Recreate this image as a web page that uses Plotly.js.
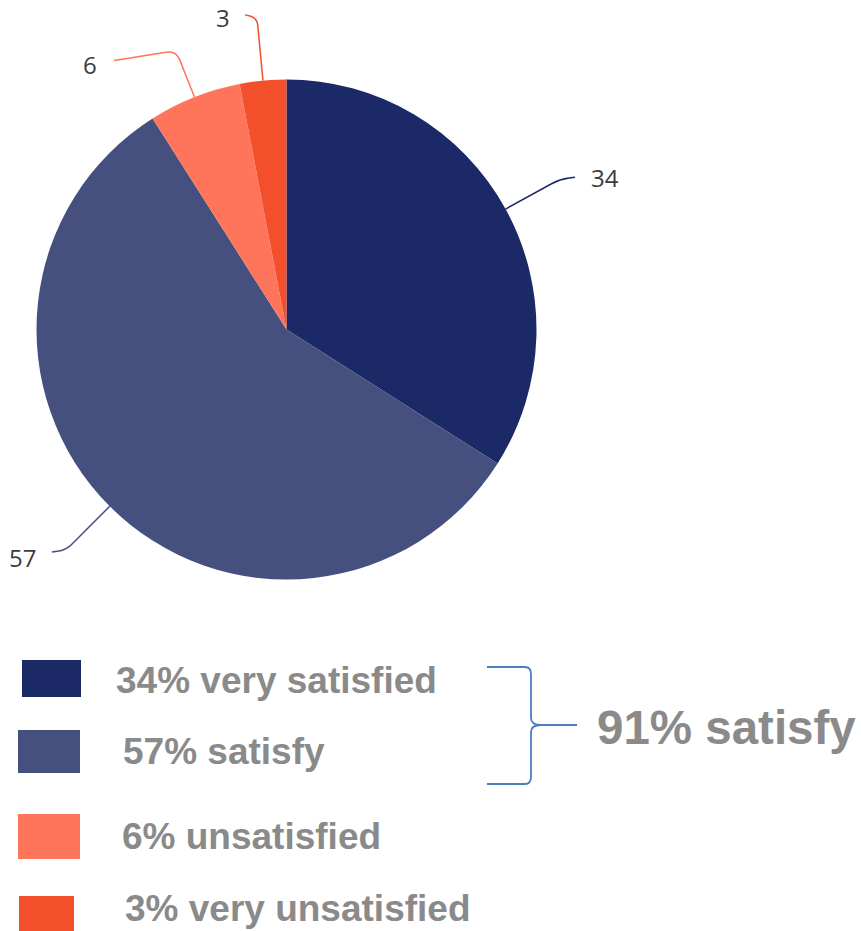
<!DOCTYPE html>
<html>
<head>
<meta charset="utf-8">
<script src="https://cdn.plot.ly/plotly-3.0.1.min.js"></script>
<style>html,body{margin:0;padding:0;background:#fff;}#chart{width:861px;height:931px;}</style>
</head>
<body>
<div id="chart"></div>
<script>
// ---- data ----
var categories = ["very satisfied", "satisfy", "unsatisfied", "very unsatisfied"];
var values = [34, 57, 6, 3];
var colors = ["#1b2966", "#45507f", "#fe755b", "#f34f2b"];
var groupLabel = "satisfy";

// ---- layout constants (pixels) ----
var W = 861, H = 931;
var CX = 286.5, CY = 329.5, R = 250;
// leader styling per slice: radius of elbow, horizontal run, vertical drift, label gap, label dy
var leaderStyle = [
  {er: 312, h: 15, dy: -2, gap: 14, ly: 0},
  {er: 312, h: 14, dy: 2, gap: 14, ly: 5},
  {er: 300, h: 62, dy: 10, gap: 15, ly: 4},
  {er: 313, h: 12, dy: -3, gap: 13, ly: 3}
];
var legendBoxes = [
  {x0: 22, x1: 81, y0: 660, y1: 697, tx: 114, ty: 680},
  {x0: 18, x1: 80, y0: 730, y1: 773, tx: 121, ty: 751},
  {x0: 18, x1: 80, y0: 814, y1: 859, tx: 120, ty: 836},
  {x0: 19, x1: 74, y0: 896, y1: 931, tx: 123, ty: 908}
];

function px(x) { return x / W; }
function py(y) { return 1 - y / H; }

var shapes = [];
var annotations = [];

// leader lines and value labels computed from the slice angles
var total = values.reduce(function (a, b) { return a + b; }, 0);
var cum = 0;
values.forEach(function (v, i) {
  var mid = (cum + v / 2) / total * 2 * Math.PI;
  cum += v;
  var s = leaderStyle[i];
  var sx = Math.sin(mid), cy = -Math.cos(mid);
  var side = sx >= 0 ? 1 : -1;
  var p0 = [CX + R * sx, CY + R * cy];
  var k = Math.min(10, s.h * 0.6);
  var pa = [CX + (s.er - k) * sx, CY + (s.er - k) * cy];
  var pe = [CX + s.er * sx, CY + s.er * cy];
  var pend = [pe[0] + side * s.h, pe[1] + s.dy];
  var pb = [pe[0] + side * k, pe[1] + s.dy * k / s.h];
  var path = "M" + px(p0[0]) + "," + py(p0[1]) +
    " L" + px(pa[0]) + "," + py(pa[1]) +
    " Q" + px(pe[0]) + "," + py(pe[1]) + " " + px(pb[0]) + "," + py(pb[1]) +
    " L" + px(pend[0]) + "," + py(pend[1]);
  shapes.push({type: "path", xref: "paper", yref: "paper", path: path,
    line: {color: colors[i], width: 1.5}});
  annotations.push({
    xref: "paper", yref: "paper",
    x: px(pend[0] + side * s.gap), y: py(pend[1] + s.ly),
    xanchor: side > 0 ? "left" : "right", yanchor: "middle",
    text: String(v), showarrow: false,
    font: {family: "Open Sans, Noto Sans, sans-serif", size: 24, color: "#3c3c3c"}
  });
});

// custom legend
values.forEach(function (v, i) {
  var b = legendBoxes[i];
  shapes.push({type: "rect", xref: "paper", yref: "paper",
    x0: px(b.x0), x1: px(b.x1), y0: py(b.y1), y1: py(b.y0),
    fillcolor: colors[i], line: {width: 0}});
  annotations.push({
    xref: "paper", yref: "paper", x: px(b.tx), y: py(b.ty),
    xanchor: "left", yanchor: "middle", showarrow: false,
    text: v + "% " + categories[i],
    font: {family: "Liberation Sans, Arial, sans-serif", size: 37, color: "#8a8a8a", weight: "bold"}
  });
});

// brace grouping the two satisfied categories
var brace = "M487,667 L525,667 Q531,667 531,674 L531,718 Q531,725 541,725 Q531,725 531,732 L531,777 Q531,784 525,784 L487,784 M541,725 L577,725";
brace = brace.replace(/(\d+),(\d+)/g, function (m, a, b) { return px(+a) + "," + py(+b); });
shapes.push({type: "path", xref: "paper", yref: "paper", path: brace,
  line: {color: "#4a7ebf", width: 1.8}});
annotations.push({
  xref: "paper", yref: "paper", x: px(595), y: py(727),
  xanchor: "left", yanchor: "middle", showarrow: false,
  text: (values[0] + values[1]) + "% " + groupLabel,
  font: {family: "Liberation Sans, Arial, sans-serif", size: 47.5, color: "#8a8a8a", weight: "bold"}
});

var trace = {
  type: "pie",
  labels: categories,
  values: values,
  sort: false,
  direction: "clockwise",
  rotation: 0,
  textinfo: "none",
  marker: {colors: colors, line: {width: 0}},
  domain: {x: [px(CX - R), px(CX + R)], y: [py(CY + R), py(CY - R)]},
  showlegend: false
};

var layout = {
  width: W, height: H,
  margin: {l: 0, r: 0, t: 0, b: 0},
  paper_bgcolor: "#ffffff",
  showlegend: false,
  shapes: shapes,
  annotations: annotations
};

Plotly.newPlot("chart", [trace], layout, {displayModeBar: false, staticPlot: true});
</script>
</body>
</html>
